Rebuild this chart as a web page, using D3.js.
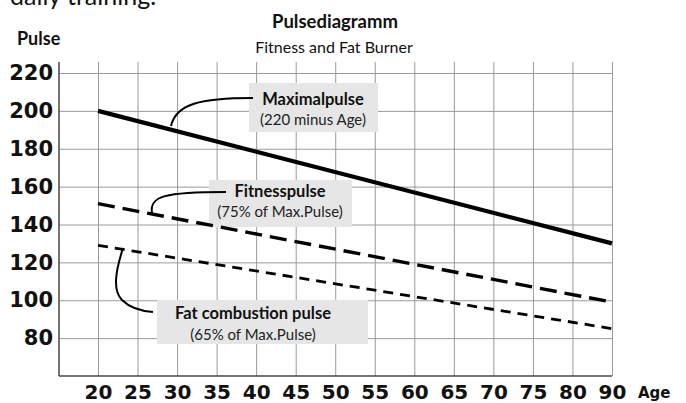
<!DOCTYPE html>
<html>
<head>
<meta charset="utf-8">
<script src="https://cdn.jsdelivr.net/npm/d3@7"></script>
<style>
  body { margin: 0; background: #fff; }
  svg { display: block; }
  .txt { font-family: Lato, "Open Sans", sans-serif; fill: #111; }
  .num { font-family: "DejaVu Sans", sans-serif; font-weight: bold; fill: #111; }
</style>
</head>
<body>
<svg id="chart" width="686" height="403"></svg>
<script>
// categories on the age axis (evenly spaced, 85 is skipped in the original)
const ageLabels = ["20", "25", "30", "35", "40", "45", "50", "55", "60", "65", "70", "75", "80", "90"];
const pulseTicks = [80, 100, 120, 140, 160, 180, 200, 220];

// each series is a straight line between the first and last age
const lineAges = ["20", "90"];
const maxPulse = [200, 130];
const fitnessPulse = [151, 99];
const fatPulse = [129, 85];

// layout
const plotLeft = 59, plotRight = 612, plotTop = 62, plotBottom = 376;

const svg = d3.select("#chart");

const x = d3.scalePoint()
  .domain(ageLabels)
  .range([98, plotRight]);

const y = d3.scaleLinear()
  .domain([60, 220])
  .range([plotBottom, 73]);

// ---- partly cut text from the page above
svg.append("text")
  .attr("class", "txt")
  .attr("x", 10).attr("y", 5)
  .style("font-size", "25px")
  .text("daily training.");

// ---- titles
svg.append("text")
  .attr("class", "txt")
  .attr("x", 335).attr("y", 28)
  .attr("text-anchor", "middle")
  .style("font-size", "18.5px").style("font-weight", "bold")
  .text("Pulsediagramm");

svg.append("text")
  .attr("class", "txt")
  .attr("x", 334).attr("y", 53)
  .attr("text-anchor", "middle")
  .style("font-size", "16px")
  .text("Fitness and Fat Burner");

svg.append("text")
  .attr("class", "txt")
  .attr("x", 17).attr("y", 45)
  .style("font-size", "18px").style("font-weight", "bold")
  .text("Pulse");

svg.append("text")
  .attr("class", "num")
  .attr("x", 638).attr("y", 398)
  .style("font-size", "15px")
  .text("Age");

// ---- grid
const gridY = svg.append("g")
  .attr("transform", `translate(${plotLeft},0)`)
  .call(d3.axisLeft(y).tickValues(pulseTicks).tickSize(-(plotRight - plotLeft)).tickFormat(""));
gridY.select(".domain").remove();
gridY.selectAll("line").attr("stroke", "#9a9a9a").attr("stroke-width", 1);

const gridX = svg.append("g")
  .attr("transform", `translate(0,${plotBottom})`)
  .call(d3.axisBottom(x).tickSize(-(plotBottom - plotTop)).tickFormat(""));
gridX.select(".domain").remove();
gridX.selectAll("line").attr("stroke", "#9a9a9a").attr("stroke-width", 1);

// ---- axis lines
svg.append("line")
  .attr("x1", plotLeft).attr("x2", plotLeft).attr("y1", plotTop).attr("y2", plotBottom)
  .attr("stroke", "#444").attr("stroke-width", 1.5);
svg.append("line")
  .attr("x1", plotLeft).attr("x2", plotRight).attr("y1", plotBottom).attr("y2", plotBottom)
  .attr("stroke", "#444").attr("stroke-width", 1.5);

// ---- tick labels
const yAxis = svg.append("g")
  .attr("transform", `translate(${plotLeft},0)`)
  .call(d3.axisLeft(y).tickValues(pulseTicks).tickSize(0).tickPadding(6));
yAxis.select(".domain").remove();
yAxis.selectAll("text")
  .attr("class", "num")
  .attr("fill", "#111")
  .style("font-size", "21px");

const xAxis = svg.append("g")
  .attr("transform", `translate(0,${plotBottom})`)
  .call(d3.axisBottom(x).tickSize(0).tickPadding(0));
xAxis.select(".domain").remove();
xAxis.selectAll("text")
  .attr("class", "num")
  .attr("fill", "#111")
  .attr("dy", null)
  .attr("y", 23)
  .style("font-size", "20px");

// ---- annotation boxes
const boxes = [
  { x0: 249, y0: 83, x1: 378, y1: 132, cx: 313, t1: "Maximalpulse", t2: "(220 minus Age)", b1: 105, b2: 125 },
  { x0: 209, y0: 180, x1: 352, y1: 227, cx: 280, t1: "Fitnesspulse", t2: "(75% of Max.Pulse)", b1: 197, b2: 217 },
  { x0: 157, y0: 300, x1: 368, y1: 344, cx: 253, t1: "Fat combustion pulse", t2: "(65% of Max.Pulse)", b1: 319, b2: 340 }
];

boxes.forEach(b => {
  svg.append("rect")
    .attr("x", b.x0).attr("y", b.y0)
    .attr("width", b.x1 - b.x0).attr("height", b.y1 - b.y0)
    .attr("fill", "#e6e6e6");
  svg.append("text")
    .attr("class", "txt")
    .attr("x", b.cx).attr("y", b.b1)
    .attr("text-anchor", "middle")
    .style("font-size", "16.5px").style("font-weight", "bold")
    .text(b.t1);
  svg.append("text")
    .attr("class", "txt")
    .attr("x", b.cx).attr("y", b.b2)
    .attr("text-anchor", "middle")
    .style("font-size", "15px")
    .style("fill", "#222")
    .text(b.t2);
});

// ---- data lines
const line = d3.line()
  .x((d, i) => x(lineAges[i]))
  .y(d => y(d));

svg.append("path")
  .datum(maxPulse)
  .attr("d", line)
  .attr("fill", "none")
  .attr("stroke", "#000")
  .attr("stroke-width", 4.3);

svg.append("path")
  .datum(fitnessPulse)
  .attr("d", line)
  .attr("fill", "none")
  .attr("stroke", "#000")
  .attr("stroke-width", 3.4)
  .attr("stroke-dasharray", "17,8");

svg.append("path")
  .datum(fatPulse)
  .attr("d", line)
  .attr("fill", "none")
  .attr("stroke", "#000")
  .attr("stroke-width", 2.8)
  .attr("stroke-dasharray", "10,7");

// ---- leader curves from the lines to the boxes
const leaders = [
  "M171,126 C176,104 200,98 253,98",
  "M152,213 C149,196 165,192 226,192",
  "M123,248 C116,270 112,290 122,300 C130,308 140,311 153,312"
];
svg.selectAll(".leader")
  .data(leaders)
  .join("path")
  .attr("class", "leader")
  .attr("d", d => d)
  .attr("fill", "none")
  .attr("stroke", "#000")
  .attr("stroke-width", 2);
</script>
</body>
</html>
